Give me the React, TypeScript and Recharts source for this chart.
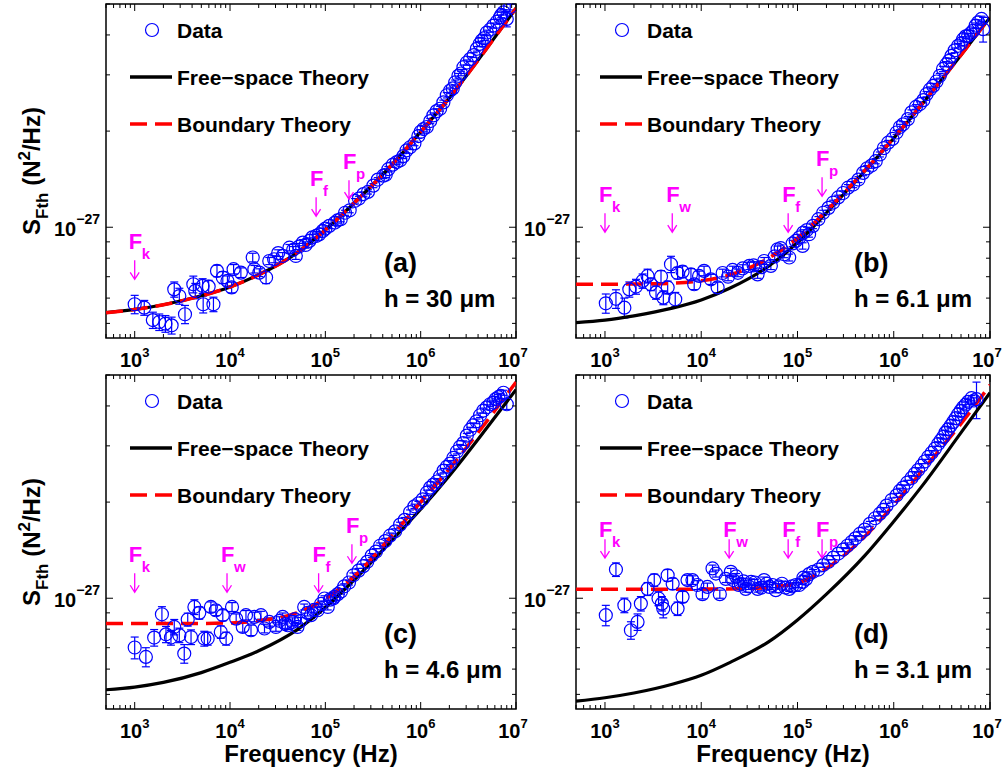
import React from 'react';
import {
  ComposedChart, Line, Scatter, ErrorBar, XAxis, YAxis,
  ReferenceDot, ReferenceArea, Legend,
} from 'recharts';

// [frequency (Hz), S_Fth (1e-28 N^2/Hz), error]
type Point = [number, number, number];
// [frequency (Hz), S_Fth (1e-28 N^2/Hz)]
type Curve = [number, number];
// [subscript, frequency (Hz), arrow tip value]
type Mark = [string, number, number];

const FONT = '"Liberation Sans", Arial, Helvetica, sans-serif';
const BLUE = '#0000ff';
const MAGENTA = '#ff00ff';

const xTicks = [
  500, 600, 700, 800, 900,
  1e3, 2e3, 3e3, 4e3, 5e3, 6e3, 7e3, 8e3, 9e3,
  1e4, 2e4, 3e4, 4e4, 5e4, 6e4, 7e4, 8e4, 9e4,
  1e5, 2e5, 3e5, 4e5, 5e5, 6e5, 7e5, 8e5, 9e5,
  1e6, 2e6, 3e6, 4e6, 5e6, 6e6, 7e6, 8e6, 9e6, 1e7,
];
const xTickLabels: Record<number, string> = { 1000: '3', 10000: '4', 100000: '5', 1000000: '6', 10000000: '7' };
const yTicks = [5, 6, 7, 8, 9, 10, 20, 30, 40, 50];
const yTickLabels: Record<number, string> = { 10: '−27' };

// ---- panel (a), h = 30 um
const dataA: Point[] = [
  [1e3, 5.74, 0.38], [1.26e3, 5.6, 0.3], [1.55e3, 5.12, 0.3], [1.81e3, 5.05, 0.3], [2.1e3, 4.99, 0.3],
  [2.44e3, 4.93, 0.3], [2.6e3, 6.39, 0.35], [2.94e3, 6.09, 0.35], [3.37e3, 5.34, 0.35], [4.12e3, 6.63, 0.4],
  [4.32e3, 6.32, 0.35], [5.16e3, 6.55, 0.35], [5.23e3, 5.74, 0.35], [5.97e3, 6.52, 0.3], [6.7e3, 5.74, 0.3],
  [7.3e3, 7.3, 0.3], [8.4e3, 6.96, 0.3], [9.4e3, 6.79, 0.25], [1.04e4, 6.48, 0.25], [1.09e4, 7.39, 0.25],
  [1.3e4, 7.21, 0.25], [1.73e4, 8.04, 0.25], [1.8e4, 7.39, 0.2], [2.03e4, 7.21, 0.2], [2.39e4, 6.96, 0.3],
  [2.58e4, 7.84, 0.2], [2.9e4, 7.94, 0.2], [3.2e4, 8.3, 0.2], [3.57e4, 8.13, 0.2], [4.2e4, 8.63, 0.2],
  [4.6e4, 8.5, 0.2], [4.9e4, 8.13, 0.2], [5.3e4, 8.7, 0.2], [5.8e4, 8.95, 0.2], [6.2e4, 8.8, 0.2],
  [6.8e4, 9.06, 0.2], [7.3e4, 9.3, 0.2], [8e4, 9.39, 0.2], [8.6e4, 9.5, 0.2], [9.4e4, 9.74, 0.2],
  [1.0e5, 9.9, 0.2], [1.1e5, 10.1, 0.2], [1.26e5, 10.34, 0.2], [1.34e5, 10.5, 0.2], [1.45e5, 10.6, 0.2],
  [1.61e5, 11.1, 0.2], [1.8e5, 11.3, 0.2], [2.05e5, 12.1, 0.2], [2.25e5, 12.3, 0.2], [2.51e5, 12.7, 0.2],
  [2.8e5, 12.9, 0.2], [3.19e5, 13.5, 0.2], [3.55e5, 14.1, 0.2], [4.06e5, 14.5, 0.3], [4.3e5, 14.6, 0.3],
  [4.58e5, 15.2, 0.3], [5.1e5, 15.7, 0.3], [5.61e5, 16.0, 0.3], [6.1e5, 16.2, 0.3], [6.58e5, 16.7, 0.3],
  [7.1e5, 17.4, 0.3], [7.74e5, 17.8, 0.3], [8.6e5, 18.3, 0.3], [9.46e5, 19.3, 0.3], [1.0e6, 19.9, 0.3],
  [1.07e6, 20.3, 0.4], [1.16e6, 20.6, 0.4], [1.26e6, 21.5, 0.4], [1.36e6, 22.4, 0.4], [1.47e6, 23.1, 0.4],
  [1.6e6, 23.5, 0.4], [1.73e6, 24.6, 0.4], [1.88e6, 25.9, 0.5], [2.04e6, 26.8, 0.5], [2.17e6, 27.2, 0.5],
  [2.3e6, 28.4, 0.5], [2.49e6, 29.8, 0.5], [2.65e6, 30.3, 0.5], [2.81e6, 31.7, 0.5], [3.05e6, 32.8, 0.6],
  [3.3e6, 33.6, 0.6], [3.6e6, 34.6, 0.6], [3.88e6, 36.2, 0.6], [4.15e6, 37.5, 0.7], [4.38e6, 38.4, 0.7],
  [4.65e6, 39.1, 0.7], [4.94e6, 40.7, 0.7], [5.35e6, 41.6, 0.8], [5.8e6, 42.8, 0.8], [6.3e6, 44.0, 0.8],
  [6.8e6, 45.4, 0.8], [7.0e6, 46.2, 0.9], [7.4e6, 47.1, 0.9], [8.0e6, 44.9, 2.5], [8.7e6, 48.9, 1.0],
];
const freeA: Curve[] = [
  [500, 5.4], [1e3, 5.53], [2e3, 5.72], [5e3, 6.1], [1e4, 6.5], [2e4, 7.1], [5e4, 8.3], [1e5, 9.8],
  [2e5, 11.9], [5e5, 15.7], [1e6, 19.9], [2e6, 25.4], [5e6, 36.5], [1e7, 48.5],
];
const boundA: Curve[] = freeA; // the two theories coincide at h = 30 um
const marksA: Mark[] = [['k', 1e3, 6.87], ['f', 8e4, 10.83], ['p', 1.77e5, 12.24]];

// ---- panel (b), h = 6.1 um
const dataB: Point[] = [
  [1.02e3, 5.78, 0.4], [1.3e3, 5.97, 0.4], [1.59e3, 5.6, 0.4], [1.79e3, 6.39, 0.35], [2.1e3, 6.52, 0.35],
  [2.46e3, 6.79, 0.35], [2.77e3, 7.04, 0.35], [3.0e3, 6.63, 0.3], [3.39e3, 6.25, 0.3], [3.82e3, 7.01, 0.3],
  [4.04e3, 6.02, 0.3], [4.48e3, 6.48, 0.3], [4.85e3, 7.66, 0.45], [5.37e3, 5.95, 0.3], [5.68e3, 7.19, 0.3],
  [6.4e3, 7.26, 0.3], [7.82e3, 7.12, 0.3], [8.45e3, 6.63, 0.25], [9.5e3, 7.04, 0.25], [1.07e4, 7.3, 0.25],
  [1.26e4, 6.87, 0.25], [1.48e4, 6.48, 0.25], [1.67e4, 7.19, 0.2], [1.9e4, 7.0, 0.2], [2.12e4, 7.35, 0.2],
  [2.4e4, 7.2, 0.2], [2.69e4, 7.43, 0.2], [3.16e4, 7.57, 0.2], [3.5e4, 7.6, 0.2], [3.85e4, 7.12, 0.2],
  [4.2e4, 7.5, 0.2], [4.51e4, 7.84, 0.2], [5.29e4, 7.57, 0.2], [5.8e4, 8.1, 0.2], [6.21e4, 8.53, 0.2],
  [6.7e4, 8.6, 0.2], [7.28e4, 8.23, 0.2], [8.2e4, 8.04, 0.2], [8.9e4, 8.9, 0.2], [9.6e4, 9.06, 0.2],
  [1.05e5, 9.3, 0.2], [1.13e5, 8.74, 0.2], [1.15e5, 9.62, 0.2], [1.25e5, 9.8, 0.2], [1.32e5, 9.51, 0.2],
  [1.45e5, 10.1, 0.2], [1.65e5, 10.6, 0.2], [1.85e5, 11.1, 0.2], [2.1e5, 11.5, 0.2], [2.35e5, 11.95, 0.2],
  [2.65e5, 12.4, 0.2], [2.98e5, 12.8, 0.2], [3.35e5, 13.3, 0.3], [3.79e5, 13.6, 0.3], [4.3e5, 14.1, 0.3],
  [4.81e5, 14.8, 0.3], [5.3e5, 15.3, 0.3], [5.87e5, 15.6, 0.3], [6.5e5, 16.1, 0.3], [7.18e5, 16.9, 0.3],
  [7.9e5, 17.7, 0.3], [8.75e5, 18.4, 0.3], [9.7e5, 18.9, 0.3], [1.07e6, 19.8, 0.3], [1.16e6, 20.6, 0.4],
  [1.25e6, 21.0, 0.4], [1.4e6, 21.8, 0.4], [1.53e6, 22.9, 0.4], [1.7e6, 23.8, 0.4], [1.87e6, 24.3, 0.4],
  [2.03e6, 25.0, 0.5], [2.19e6, 26.1, 0.5], [2.38e6, 27.0, 0.5], [2.57e6, 27.7, 0.5], [2.78e6, 28.6, 0.5],
  [3.01e6, 29.8, 0.5], [3.25e6, 31.3, 0.6], [3.53e6, 32.4, 0.6], [3.75e6, 33.2, 0.6], [3.98e6, 34.4, 0.6],
  [4.3e6, 35.8, 0.6], [4.67e6, 37.0, 0.6], [5.0e6, 37.6, 0.7], [5.26e6, 38.8, 0.7], [5.6e6, 39.6, 0.7],
  [5.93e6, 39.8, 0.7], [6.3e6, 40.5, 0.8], [6.67e6, 41.2, 0.8], [7.1e6, 42.8, 0.8], [7.53e6, 43.8, 0.8],
  [8.16e6, 44.9, 0.9], [8.48e6, 41.7, 3.7],
];
const freeB: Curve[] = [
  [500, 5.03], [1e3, 5.12], [2e3, 5.28], [5e3, 5.58], [1e4, 5.92], [2e4, 6.45], [5e4, 7.55], [1e5, 8.95],
  [2e5, 11.1], [5e5, 15.0], [1e6, 19.0], [2e6, 24.4], [5e6, 34.6], [1e7, 45.4],
];
const boundB: Curve[] = [
  [500, 6.63], [2e3, 6.64], [5e3, 6.68], [1e4, 6.8], [2e4, 7.1], [5e4, 8.0], [1e5, 9.25], [2e5, 11.25],
  [5e5, 15.05], [1e6, 19.05], [2e6, 24.45], [5e6, 34.65], [1e7, 45.45],
];
const marksB: Mark[] = [['k', 1e3, 9.65], ['w', 5e3, 9.65], ['f', 8e4, 9.65], ['p', 1.8e5, 12.5]];

// ---- panel (c), h = 4.6 um
const dataC: Point[] = [
  [1.0e3, 7.01, 0.55], [1.31e3, 6.55, 0.45], [1.6e3, 7.53, 0.45], [1.93e3, 8.91, 0.5], [2.13e3, 7.71, 0.45],
  [2.4e3, 7.53, 0.4], [2.6e3, 8.13, 0.45], [2.94e3, 7.66, 0.4], [3.31e3, 6.71, 0.45], [3.6e3, 8.58, 0.4],
  [3.9e3, 7.56, 0.4], [4.23e3, 9.39, 0.5], [4.76e3, 9.0, 0.4], [5.37e3, 7.48, 0.4], [5.83e3, 7.48, 0.35],
  [6.3e3, 9.39, 0.35], [7.1e3, 9.17, 0.35], [8.0e3, 7.84, 0.35], [8.4e3, 8.85, 0.35], [9.1e3, 7.48, 0.35],
  [1.05e4, 9.39, 0.3], [1.16e4, 8.63, 0.3], [1.36e4, 8.13, 0.3], [1.47e4, 8.85, 0.3], [1.66e4, 7.94, 0.3],
  [1.8e4, 8.74, 0.3], [2.11e4, 8.85, 0.25], [2.3e4, 8.04, 0.25], [2.58e4, 8.43, 0.25], [3.03e4, 8.13, 0.25],
  [3.3e4, 8.5, 0.25], [3.57e4, 8.74, 0.25], [3.8e4, 8.3, 0.25], [4.03e4, 8.23, 0.25], [4.53e4, 8.43, 0.25],
  [4.8e4, 8.6, 0.2], [5.1e4, 8.13, 0.2], [5.5e4, 8.5, 0.2], [6.0e4, 9.39, 0.2], [6.5e4, 9.0, 0.2],
  [7.07e4, 8.85, 0.2], [7.6e4, 9.2, 0.2], [8.3e4, 9.17, 0.2], [9.0e4, 9.6, 0.2], [9.8e4, 9.98, 0.2],
  [1.06e5, 9.39, 0.2], [1.12e5, 9.9, 0.2], [1.21e5, 9.98, 0.2], [1.24e5, 10.1, 0.2], [1.35e5, 10.3, 0.2],
  [1.46e5, 10.5, 0.2], [1.58e5, 10.9, 0.2], [1.77e5, 11.2, 0.2], [1.97e5, 11.8, 0.2], [2.23e5, 12.2, 0.2],
  [2.5e5, 12.6, 0.2], [2.75e5, 13.0, 0.2], [3.07e5, 13.6, 0.2], [3.4e5, 14.0, 0.3], [3.75e5, 14.6, 0.3],
  [4.25e5, 15.1, 0.3], [4.77e5, 15.7, 0.3], [5.4e5, 16.2, 0.3], [6.08e5, 17.0, 0.3], [6.8e5, 17.6, 0.3],
  [7.74e5, 18.6, 0.3], [8.6e5, 19.4, 0.3], [9.46e5, 19.8, 0.3], [1.05e6, 20.4, 0.4], [1.16e6, 21.4, 0.4],
  [1.26e6, 22.2, 0.4], [1.36e6, 22.7, 0.4], [1.48e6, 23.2, 0.4], [1.6e6, 24.1, 0.4], [1.74e6, 25.1, 0.4],
  [1.88e6, 25.8, 0.4], [2.04e6, 26.4, 0.5], [2.2e6, 27.5, 0.5], [2.4e6, 28.8, 0.5], [2.59e6, 29.8, 0.5],
  [2.8e6, 30.6, 0.5], [3.05e6, 32.3, 0.5], [3.3e6, 33.7, 0.6], [3.57e6, 34.8, 0.6], [3.85e6, 35.8, 0.6],
  [4.2e6, 37.4, 0.6], [4.55e6, 38.7, 0.7], [4.94e6, 39.6, 0.7], [5.35e6, 40.5, 0.7], [5.8e6, 41.0, 0.7],
  [6.1e6, 42.0, 0.8], [6.53e6, 42.6, 0.8], [6.9e6, 43.0, 0.8], [7.38e6, 44.0, 0.8], [8.0e6, 40.5, 1.5],
];
const freeC: Curve[] = [
  [500, 5.17], [1e3, 5.27], [2e3, 5.45], [5e3, 5.85], [1e4, 6.3], [2e4, 6.85], [5e4, 7.95], [1e5, 9.35],
  [2e5, 11.4], [5e5, 15.2], [1e6, 19.0], [2e6, 24.2], [5e6, 34.3], [1e7, 45.0],
];
const boundC: Curve[] = [
  [500, 8.33], [3e3, 8.33], [1e4, 8.37], [2e4, 8.5], [5e4, 9.0], [1e5, 9.95], [2e5, 11.7], [5e5, 15.7],
  [1e6, 20.0], [2e6, 25.4], [5e6, 36.0], [1e7, 47.5],
];
const marksC: Mark[] = [['k', 1e3, 10.44], ['w', 9.3e3, 10.44], ['f', 8.5e4, 10.44], ['p', 1.9e5, 12.87]];

// ---- panel (d), h = 3.1 um
const dataD: Point[] = [
  [1.02e3, 8.85, 0.65], [1.3e3, 12.3, 0.6], [1.59e3, 9.51, 0.5], [1.86e3, 7.94, 0.5], [2.18e3, 8.43, 0.5],
  [2.36e3, 9.62, 0.5], [2.77e3, 10.7, 0.5], [3.25e3, 11.4, 0.5], [3.6e3, 9.98, 0.5], [3.9e3, 9.62, 0.5],
  [4.03e3, 9.28, 0.6], [4.48e3, 11.8, 0.5], [5.05e3, 11.1, 0.45], [5.68e3, 9.28, 0.45], [6.4e3, 10.1, 0.4],
  [7.2e3, 11.4, 0.4], [8.1e3, 11.4, 0.35], [9.1e3, 11.0, 0.35], [1.03e4, 10.3, 0.35], [1.16e4, 10.85, 0.3],
  [1.31e4, 12.4, 0.3], [1.42e4, 11.95, 0.3], [1.56e4, 10.3, 0.3], [1.8e4, 11.5, 0.3], [2.03e4, 12.1, 0.3],
  [2.15e4, 11.4, 0.3], [2.3e4, 11.7, 0.25], [2.45e4, 11.0, 0.25], [2.58e4, 11.1, 0.25], [2.75e4, 11.3, 0.25],
  [2.9e4, 10.7, 0.25], [3.1e4, 10.9, 0.25], [3.3e4, 11.25, 0.25], [3.6e4, 11.2, 0.25], [3.85e4, 10.7, 0.25],
  [4.2e4, 10.8, 0.25], [4.5e4, 11.4, 0.25], [4.8e4, 11.1, 0.2], [5.1e4, 10.85, 0.2], [5.5e4, 11.0, 0.2],
  [5.95e4, 10.6, 0.2], [6.4e4, 10.9, 0.2], [6.9e4, 11.1, 0.2], [7.5e4, 10.8, 0.2], [8.2e4, 10.7, 0.2],
  [8.8e4, 10.9, 0.2], [9.6e4, 11.0, 0.2], [1.04e5, 11.0, 0.2], [1.13e5, 11.25, 0.2], [1.15e5, 11.6, 0.2],
  [1.23e5, 11.5, 0.2], [1.32e5, 11.9, 0.2], [1.45e5, 12.1, 0.2], [1.65e5, 12.3, 0.2], [1.85e5, 12.7, 0.2],
  [2.1e5, 13.0, 0.2], [2.35e5, 13.4, 0.2], [2.65e5, 13.8, 0.2], [2.98e5, 14.2, 0.2], [3.3e5, 14.6, 0.3],
  [3.65e5, 15.0, 0.3], [4.0e5, 15.4, 0.3], [4.44e5, 15.9, 0.3], [5.0e5, 16.4, 0.3], [5.65e5, 17.1, 0.3],
  [6.4e5, 17.8, 0.3], [7.18e5, 18.4, 0.3], [7.8e5, 18.9, 0.3], [8.42e5, 19.5, 0.3], [9.5e5, 20.3, 0.3],
  [1.07e6, 21.0, 0.3], [1.16e6, 21.7, 0.4], [1.25e6, 22.2, 0.4], [1.38e6, 23.0, 0.4], [1.53e6, 23.8, 0.4],
  [1.65e6, 24.5, 0.4], [1.79e6, 25.2, 0.4], [1.95e6, 26.0, 0.4], [2.1e6, 26.8, 0.4], [2.28e6, 27.7, 0.5],
  [2.47e6, 28.5, 0.5], [2.68e6, 29.4, 0.5], [2.89e6, 30.4, 0.5], [3.07e6, 31.2, 0.5], [3.26e6, 32.0, 0.5],
  [3.45e6, 33.0, 0.6], [3.67e6, 33.8, 0.6], [3.9e6, 34.7, 0.6], [4.14e6, 35.6, 0.6], [4.4e6, 36.6, 0.6],
  [4.67e6, 37.7, 0.6], [4.95e6, 38.6, 0.7], [5.26e6, 39.6, 0.7], [5.6e6, 40.4, 0.7], [5.93e6, 41.2, 0.7],
  [6.43e6, 42.3, 0.8], [6.8e6, 41.6, 0.8], [7.24e6, 42.0, 5.5],
];
const freeD: Curve[] = [
  [500, 4.76], [1e3, 4.88], [2e3, 5.05], [5e3, 5.38], [1e4, 5.74], [2e4, 6.3], [5e4, 7.3], [1e5, 8.55],
  [2e5, 10.3], [5e5, 13.6], [1e6, 17.4], [2e6, 22.6], [5e6, 33.0], [1e7, 44.0],
];
const boundD: Curve[] = [
  [500, 10.67], [1e4, 10.68], [3e4, 10.72], [6e4, 10.88], [1e5, 11.15], [2e5, 12.4], [5e5, 15.6],
  [1e6, 19.6], [2e6, 25.2], [5e6, 35.2], [1e7, 46.5],
];
const marksD: Mark[] = [['k', 1e3, 13.35], ['w', 1.95e4, 13.35], ['f', 8e4, 13.35], ['p', 1.8e5, 13.35]];

const PLOT_H = 334;
const Y_AXIS_W = 106;

const panels = [
  { id: 'a', data: dataA, free: freeA, bound: boundA, marks: marksA, letter: '(a)', hText: 'h = 30 μm',
    left: 0, top: 0, width: 545, right: 29, xAxisH: 36, yTitle: true, xTitle: false, gap: 30 },
  { id: 'b', data: dataB, free: freeB, bound: boundB, marks: marksB, letter: '(b)', hText: 'h = 6.1 μm',
    left: 470, top: 0, width: 534, right: 14, xAxisH: 36, yTitle: false, xTitle: false, gap: 30 },
  { id: 'c', data: dataC, free: freeC, bound: boundC, marks: marksC, letter: '(c)', hText: 'h = 4.6 μm',
    left: 0, top: 371, width: 545, right: 29, xAxisH: 60, yTitle: true, xTitle: true, gap: 30 },
  { id: 'd', data: dataD, free: freeD, bound: boundD, marks: marksD, letter: '(d)', hText: 'h = 3.1 μm',
    left: 470, top: 371, width: 534, right: 14, xAxisH: 60, yTitle: false, xTitle: true, gap: 21 },
];

const XTick = (props: any) => {
  const { x, y, payload } = props;
  const exp = xTickLabels[payload.value];
  const len = exp ? 7 : 4;
  // the last label sits at the page edge, nudge it in a little
  const tx = payload.value >= 1e7 ? x - 3 : x;
  return (
    <g>
      <line x1={x} x2={x} y1={y} y2={y - len} stroke="#000" strokeWidth={1} />
      <line x1={x} x2={x} y1={y - PLOT_H} y2={y - PLOT_H + len} stroke="#000" strokeWidth={1} />
      {exp && (
        <text x={tx} y={y + 29} textAnchor="middle" fontFamily={FONT} fontWeight="bold" fontSize={20} fill="#000">
          <tspan>10</tspan>
          <tspan dy={-10} fontSize={13}>{exp}</tspan>
        </text>
      )}
    </g>
  );
};

const YTick = (props: any) => {
  const { x, y, payload, plotW } = props;
  const exp = yTickLabels[payload.value];
  const len = exp ? 7 : 4;
  return (
    <g>
      <line x1={x} x2={x + len} y1={y} y2={y} stroke="#000" strokeWidth={1} />
      <line x1={x + plotW - len} x2={x + plotW} y1={y} y2={y} stroke="#000" strokeWidth={1} />
      {exp && (
        <text x={x - 6} y={y + 9} textAnchor="end" fontFamily={FONT} fontWeight="bold" fontSize={20} fill="#000">
          <tspan>10</tspan>
          <tspan dy={-12} fontSize={14}>{exp}</tspan>
        </text>
      )}
    </g>
  );
};

const renderYTitle = (props: any) => {
  const vb = props.viewBox || { x: 0, y: 4, width: Y_AXIS_W, height: PLOT_H };
  const cx = vb.x + 40;
  const cy = vb.y + vb.height / 2;
  return (
    <text x={cx} y={cy} transform={`rotate(-90, ${cx}, ${cy})`} textAnchor="middle"
      fontFamily={FONT} fontWeight="bold" fontSize={24} fill="#000">
      <tspan>S</tspan>
      <tspan dy={8} fontSize={17}>Fth</tspan>
      <tspan dy={-8}> (N</tspan>
      <tspan dy={-10} fontSize={17}>2</tspan>
      <tspan dy={10}>/Hz)</tspan>
    </text>
  );
};

const renderXTitle = (props: any) => {
  const vb = props.viewBox;
  if (!vb) return null;
  return (
    <text x={vb.x + vb.width / 2} y={vb.y + 53} textAnchor="middle"
      fontFamily={FONT} fontWeight="bold" fontSize={24} fill="#000">
      Frequency (Hz)
    </text>
  );
};

const Marker = ({ cx, cy, sub, gap }: any) => (
  <g>
    <path
      d={`M${cx},${cy - 19} L${cx},${cy} M${cx - 4.5},${cy - 7} L${cx},${cy} L${cx + 4.5},${cy - 7}`}
      stroke={MAGENTA} strokeWidth={1.3} fill="none"
    />
    <text x={cx - 6} y={cy - gap} fontFamily={FONT} fontWeight="bold" fontSize={22} fill={MAGENTA}>F</text>
    <text x={cx + 7} y={cy - gap + 10} fontFamily={FONT} fontWeight="bold" fontSize={15} fill={MAGENTA}>{sub}</text>
  </g>
);

const Overlay = ({ plotW, letter, hText }: any) => (
  <svg width={plotW} height={PLOT_H} style={{ overflow: 'visible', display: 'block' }}>
    <g fontFamily={FONT} fontWeight="bold" fill="#000">
      <circle cx={46} cy={26} r={6.5} fill="none" stroke={BLUE} strokeWidth={1.2} />
      <text x={71} y={33.5} fontSize={21}>Data</text>
      <line x1={24} x2={66} y1={73} y2={73} stroke="#000" strokeWidth={3.5} />
      <text x={71} y={80.5} fontSize={21}>Free−space Theory</text>
      <line x1={24} x2={66} y1={120} y2={120} stroke="#ff0000" strokeWidth={3.5} strokeDasharray="17 8" />
      <text x={71} y={127.5} fontSize={21}>Boundary Theory</text>
      <text x={278} y={268} fontSize={27}>{letter}</text>
      <text x={278} y={303} fontSize={24}>{hText}</text>
    </g>
  </svg>
);

const Panel = ({ p }: any) => {
  const plotW = p.width - p.right - Y_AXIS_W;
  const rows = p.data.map(([f, v, e]: Point) => ({ f, v, e }));
  const freeRows = p.free.map(([f, v]: Curve) => ({ f, v }));
  const boundRows = p.bound.map(([f, v]: Curve) => ({ f, v }));
  return (
    <div style={{ position: 'absolute', left: p.left, top: p.top }}>
      <ComposedChart width={p.width} height={4 + PLOT_H + p.xAxisH}
        margin={{ top: 4, right: p.right, left: 0, bottom: 0 }}>
        <XAxis dataKey="f" type="number" scale="log" domain={[500, 1e7]} allowDataOverflow
          ticks={xTicks} interval={0} tickSize={0} tickMargin={0} axisLine={false} tickLine={false}
          height={p.xAxisH} tick={(t: any) => <XTick {...t} />}
          label={p.xTitle ? renderXTitle : undefined} />
        <YAxis dataKey="v" type="number" scale="log" domain={[4.5, 50]} allowDataOverflow
          ticks={yTicks} interval={0} tickSize={0} tickMargin={0} axisLine={false} tickLine={false}
          width={Y_AXIS_W} tick={(t: any) => <YTick {...t} plotW={plotW} />}
          label={p.yTitle ? renderYTitle : undefined} />
        <Legend layout="horizontal" verticalAlign="middle" align="center"
          wrapperStyle={{ position: 'absolute', left: Y_AXIS_W, top: 4, width: plotW, height: PLOT_H, pointerEvents: 'none' }}
          content={() => <Overlay plotW={plotW} letter={p.letter} hText={p.hText} />} />
        <Scatter data={rows} dataKey="v" isAnimationActive={false}
          shape={(s: any) => <circle cx={s.cx} cy={s.cy} r={6.5} fill="none" stroke={BLUE} strokeWidth={1.2} />}>
          <ErrorBar dataKey="e" direction="y" width={4} stroke={BLUE} strokeWidth={1.2} />
        </Scatter>
        <Line data={freeRows} dataKey="v" type="monotone" stroke="#000" strokeWidth={3.2}
          dot={false} activeDot={false} isAnimationActive={false} />
        <Line data={boundRows} dataKey="v" type="monotone" stroke="#ff0000" strokeWidth={3.5}
          strokeDasharray="17 8" dot={false} activeDot={false} isAnimationActive={false} />
        {p.marks.map(([sub, f, v]: Mark) => (
          <ReferenceDot key={sub} x={f} y={v} r={0}
            shape={(s: any) => <Marker cx={s.cx} cy={s.cy} sub={sub} gap={p.gap} />} />
        ))}
        <ReferenceArea x1={500} x2={1e7} y1={4.5} y2={50} fill="none" stroke="#000" strokeWidth={1.5}
          ifOverflow="visible" />
      </ComposedChart>
    </div>
  );
}

export default function App() {
  return (
    <div style={{ position: 'absolute', left: 0, top: 0, width: 1005, height: 774, background: '#fff' }}>
      {panels.map((p) => <Panel key={p.id} p={p} />)}
    </div>
  );
}
